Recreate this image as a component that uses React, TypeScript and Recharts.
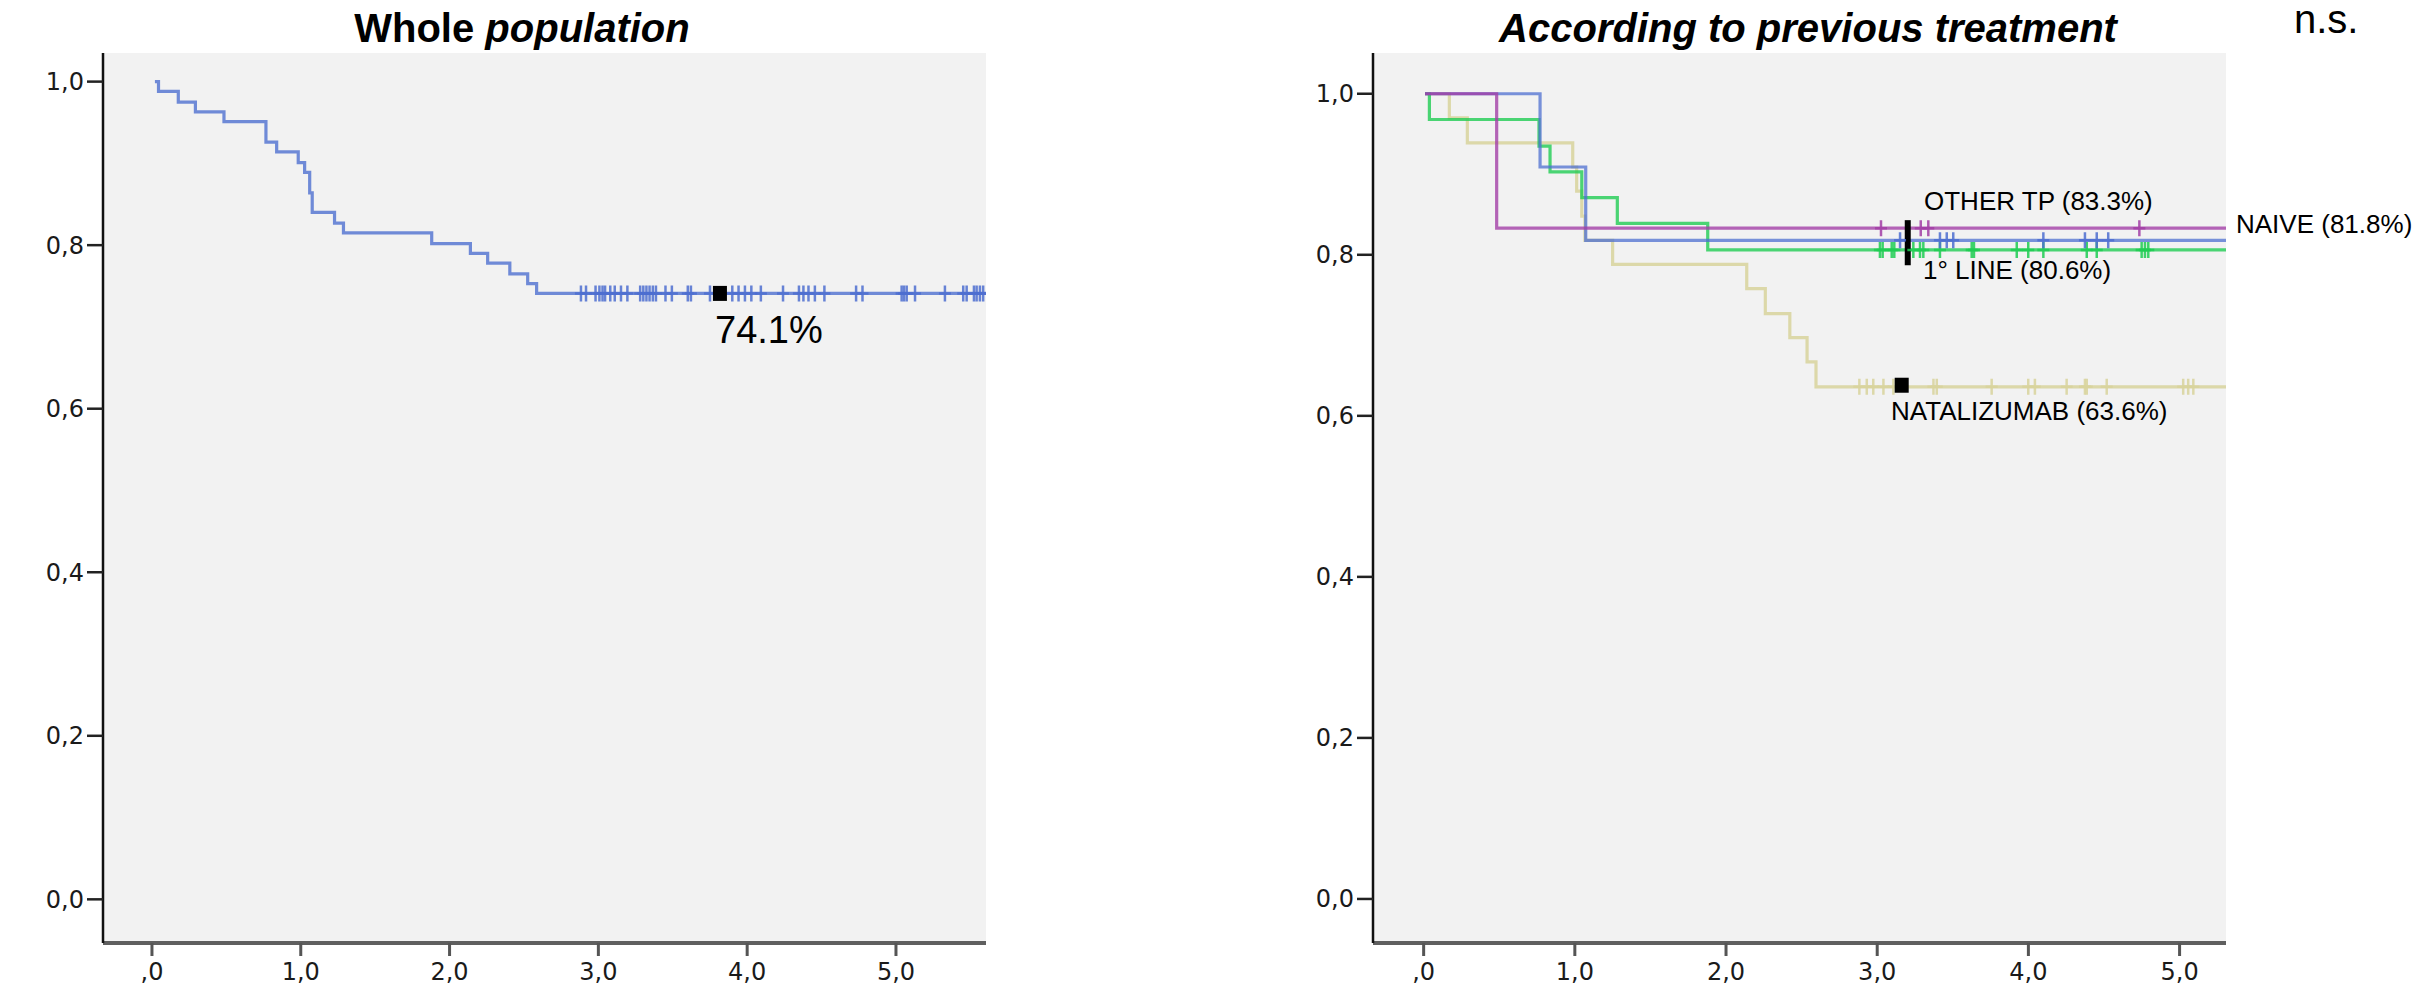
import React from "react";
import {
  ComposedChart,
  Line,
  Scatter,
  XAxis,
  YAxis,
  CartesianGrid,
  ReferenceLine,
} from "recharts";

type Pt = { t: number; s: number };

// ---- Whole population (years, survival) ----
const wholeTimes = [0.02, 0.044, 0.177, 0.292, 0.484, 0.766, 0.838, 0.983, 1.026, 1.06, 1.077, 1.227, 1.287, 1.88, 2.14, 2.256, 2.405, 2.525, 2.585, 5.605];
const wholeSurv = [1.0, 0.988, 0.975, 0.963, 0.951, 0.926, 0.914, 0.901, 0.889, 0.864, 0.84, 0.827, 0.815, 0.802, 0.79, 0.778, 0.765, 0.753, 0.741, 0.741];
const wholeCensored = [
  2.883, 2.917, 2.981, 3.007, 3.028, 3.045, 3.08, 3.11, 3.152, 3.195, 3.281, 3.302, 3.323, 3.344,
  3.366, 3.387, 3.451, 3.494, 3.601, 3.622, 3.75, 3.9, 3.942, 3.985, 4.028, 4.092, 4.241, 4.348,
  4.378, 4.412, 4.455, 4.519, 4.732, 4.775, 5.038, 5.054, 5.072, 5.128, 5.329, 5.452, 5.475,
  5.524, 5.542, 5.564, 5.586,
];
const wholeLevel = 0.741;
const wholeMarker = { t: 3.817, s: 0.741 };

// ---- According to previous treatment ----
const otherTimes = [0.009, 0.483, 5.307];
const otherSurv = [1.0, 0.833, 0.833];
const otherCensored = [3.025, 3.288, 3.338, 4.734];

const naiveTimes = [0.009, 0.77, 1.072, 5.307];
const naiveSurv = [1.0, 0.909, 0.818, 0.818];
const naiveCensored = [3.151, 3.415, 3.46, 3.503, 4.099, 4.374, 4.452, 4.528];

const firstTimes = [0.009, 0.038, 0.763, 0.836, 1.046, 1.281, 1.879, 5.307];
const firstSurv = [1.0, 0.968, 0.935, 0.903, 0.871, 0.839, 0.806, 0.806];
const firstCensored = [
  3.018, 3.036, 3.096, 3.113, 3.239, 3.283, 3.305, 3.415, 3.625, 3.64, 3.923, 3.999, 4.099,
  4.386, 4.452, 4.749, 4.771, 4.793,
];

const nataTimes = [0.009, 0.17, 0.289, 0.986, 1.012, 1.046, 1.067, 1.25, 2.137, 2.26, 2.422, 2.536, 2.595, 5.307];
const nataSurv = [1.0, 0.97, 0.939, 0.909, 0.879, 0.848, 0.818, 0.788, 0.758, 0.727, 0.697, 0.667, 0.636, 0.636];
const nataCensored = [
  2.882, 2.931, 2.974, 3.041, 3.107, 3.372, 3.394, 3.757, 3.999, 4.043, 4.253, 4.374, 4.386,
  4.518, 5.024, 5.057, 5.091,
];

const nataMarker = { t: 3.162, s: 0.638 };
const otherBar = { t: 3.202, low: 0.787, high: 0.843 };

const yTicks = [0, 0.2, 0.4, 0.6, 0.8, 1.0];
const xTicks = [0, 1, 2, 3, 4, 5];

const BLUE = "#4d6fd0";
const PURPLE = "#a23ea6";
const GREEN = "#1fcc52";
const KHAKI = "#d8d39c";

const toPts = (ts: number[], ss: number[]): Pt[] => ts.map((t, i) => ({ t, s: ss[i] }));
const atLevel = (ts: number[], s: number): Pt[] => ts.map((t) => ({ t, s }));

const fmtY = (v: number) => v.toFixed(1).replace(".", ",");
const fmtX = (v: number) => (v === 0 ? ",0" : v.toFixed(1).replace(".", ","));

const tickFont = { fontSize: 24, fontFamily: "DejaVu Sans, sans-serif", fill: "#1a1a1a" };

const plus = (color: string) => (props: any) => {
  const { cx, cy } = props;
  return (
    <path
      d={`M${cx - 6},${cy}H${cx + 6}M${cx},${cy - 8}V${cy + 8}`}
      stroke={color}
      strokeWidth={2.5}
      strokeOpacity={0.85}
      fill="none"
    />
  );
};

const square = (props: any) => {
  const { cx, cy } = props;
  return <rect x={cx - 7} y={cy - 7.5} width={14} height={15} fill="#000" />;
};

// shared axis pieces, SPSS look
function axes(xDomain: [number, number], yDomain: [number, number]) {
  return [
    <CartesianGrid key="bg" fill="#f2f2f2" horizontal={false} vertical={false} stroke="none" />,
    <XAxis
      key="x"
      dataKey="t"
      type="number"
      domain={xDomain}
      allowDataOverflow
      ticks={xTicks}
      tickFormatter={fmtX}
      height={46}
      tickSize={13}
      tickMargin={7}
      tick={tickFont}
      axisLine={{ stroke: "#5f5f5f", strokeWidth: 4 }}
      tickLine={{ stroke: "#555", strokeWidth: 3 }}
    />,
    <YAxis
      key="y"
      dataKey="s"
      type="number"
      domain={yDomain}
      allowDataOverflow
      ticks={yTicks}
      tickFormatter={fmtY}
      width={103}
      tickSize={16}
      tickMargin={3}
      tick={tickFont}
      axisLine={{ stroke: "#111", strokeWidth: 2.5 }}
      tickLine={{ stroke: "#222", strokeWidth: 2.5 }}
    />,
  ];
}

export default function App() {
  return (
    <div
      style={{
        position: "absolute",
        left: 0,
        top: 0,
        width: 2416,
        height: 989,
        background: "#fff",
        overflow: "hidden",
      }}
    >
      <div style={{ position: "absolute", left: 0, top: 0 }}>
        <ComposedChart width={1000} height={989} margin={{ top: 53, right: 14, left: 0, bottom: 0 }}>
          {axes([-0.329, 5.605], [-0.0534, 1.035])}
          <Line
            data={toPts(wholeTimes, wholeSurv)}
            dataKey="s"
            type="stepAfter"
            stroke={BLUE}
            strokeWidth={3.2}
            strokeOpacity={0.8}
            dot={false}
            activeDot={false}
            isAnimationActive={false}
          />
          <Scatter data={atLevel(wholeCensored, wholeLevel)} dataKey="s" shape={plus(BLUE)} isAnimationActive={false} />
          <Scatter data={[wholeMarker]} dataKey="s" shape={square} isAnimationActive={false} />
        </ComposedChart>
      </div>

      <div style={{ position: "absolute", left: 1270, top: 0 }}>
        <ComposedChart width={970} height={989} margin={{ top: 53, right: 14, left: 0, bottom: 0 }}>
          {axes([-0.335, 5.307], [-0.0547, 1.0506])}
          <Line data={toPts(nataTimes, nataSurv)} dataKey="s" type="stepAfter" stroke={KHAKI} strokeWidth={3.2} strokeOpacity={0.85} dot={false} activeDot={false} isAnimationActive={false} />
          <Line data={toPts(firstTimes, firstSurv)} dataKey="s" type="stepAfter" stroke={GREEN} strokeWidth={3.2} strokeOpacity={0.8} dot={false} activeDot={false} isAnimationActive={false} />
          <Line data={toPts(naiveTimes, naiveSurv)} dataKey="s" type="stepAfter" stroke={BLUE} strokeWidth={3.2} strokeOpacity={0.75} dot={false} activeDot={false} isAnimationActive={false} />
          <Line data={toPts(otherTimes, otherSurv)} dataKey="s" type="stepAfter" stroke={PURPLE} strokeWidth={3.2} strokeOpacity={0.8} dot={false} activeDot={false} isAnimationActive={false} />
          <Scatter data={atLevel(nataCensored, 0.636)} dataKey="s" shape={plus(KHAKI)} isAnimationActive={false} />
          <Scatter data={atLevel(firstCensored, 0.806)} dataKey="s" shape={plus(GREEN)} isAnimationActive={false} />
          <Scatter data={atLevel(naiveCensored, 0.818)} dataKey="s" shape={plus(BLUE)} isAnimationActive={false} />
          <Scatter data={atLevel(otherCensored, 0.833)} dataKey="s" shape={plus(PURPLE)} isAnimationActive={false} />
          <ReferenceLine
            segment={[
              { x: otherBar.t, y: otherBar.low },
              { x: otherBar.t, y: otherBar.high },
            ]}
            stroke="#000"
            strokeWidth={6}
          />
          <Scatter data={[nataMarker]} dataKey="s" shape={square} isAnimationActive={false} />
        </ComposedChart>
      </div>

      <svg
        width={2416}
        height={989}
        style={{ position: "absolute", left: 0, top: 0, pointerEvents: "none" }}
        fontFamily="Liberation Sans, Arial, sans-serif"
      >
        <text x={522} y={42} textAnchor="middle" fontSize={40} fontWeight="bold">
          Whole <tspan fontStyle="italic">population</tspan>
        </text>
        <text x={1808} y={42} textAnchor="middle" fontSize={40} fontWeight="bold" fontStyle="italic">
          According to previous treatment
        </text>
        <text x={2294} y={33} fontSize={40}>n.s.</text>
        <text x={715} y={343} fontSize={38}>74.1%</text>
        <text x={1924} y={210} fontSize={26}>OTHER TP (83.3%)</text>
        <text x={1923} y={279} fontSize={26}>1° LINE (80.6%)</text>
        <text x={1891} y={420} fontSize={26}>NATALIZUMAB (63.6%)</text>
        <text x={2236} y={233} fontSize={26}>NAIVE (81.8%)</text>
      </svg>
    </div>
  );
}
